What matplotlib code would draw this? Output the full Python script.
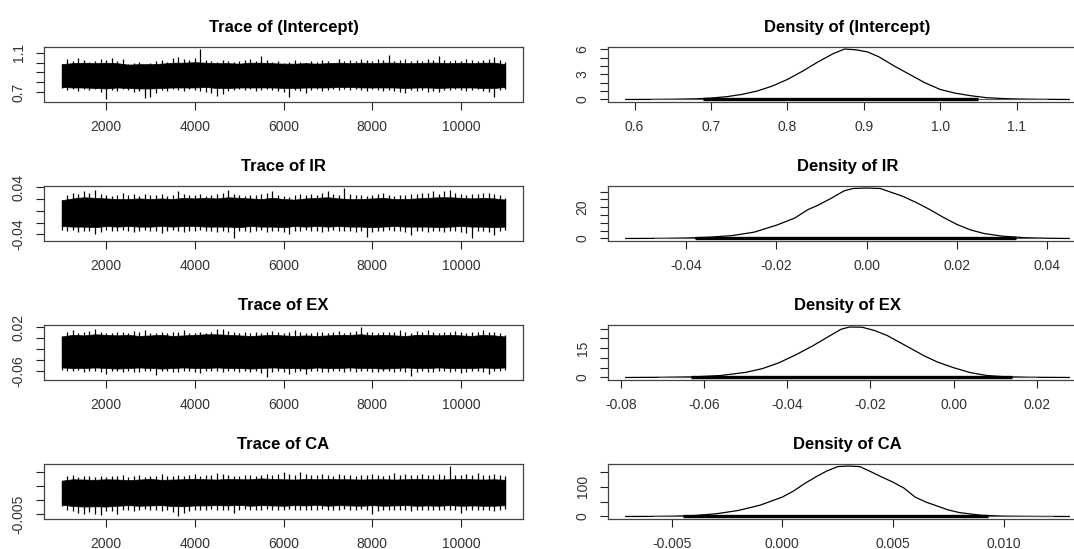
import matplotlib.pyplot as plt
import numpy as np

plt.rcParams['font.family'] = ['Liberation Sans', 'DejaVu Sans']

# knots for the solid core of each trace band, and positions of the hairs on its edges
core_iters = list(range(1000, 11001, 250))
hair_iters = list(range(1000, 11001, 125))

# ---- (Intercept) ----
int_core_hi = [0.985, 0.995, 1.0, 0.995, 1.0, 0.995, 0.98, 0.985, 0.985, 0.99, 1.0, 1.0, 1.005, 1.0,
               0.995, 0.995, 0.99, 1.0, 1.0, 0.995, 0.99, 0.99, 0.995, 0.99, 0.995, 1.0, 0.995, 1.0,
               0.995, 1.0, 1.0, 0.995, 0.995, 1.0, 1.0, 0.995, 1.0, 0.995, 1.0, 1.0, 0.985]
int_core_lo = [0.75, 0.745, 0.745, 0.74, 0.735, 0.745, 0.74, 0.735, 0.735, 0.74, 0.745, 0.745, 0.745, 0.75,
               0.74, 0.74, 0.745, 0.745, 0.745, 0.745, 0.74, 0.74, 0.745, 0.745, 0.745, 0.75, 0.75, 0.745,
               0.745, 0.745, 0.745, 0.74, 0.745, 0.745, 0.74, 0.745, 0.745, 0.745, 0.74, 0.74, 0.75]
int_top = [0.99, 1.04, 1.02, 1.05, 1.03, 1.01, 1.02, 1.04, 1.03, 1.05, 1.02, 1.04,
           0.99, 1.00, 1.01, 0.98, 1.00, 1.02, 1.03, 1.01, 1.05, 1.06, 1.04, 1.03, 1.05, 1.14, 1.03,
           1.02, 1.01, 1.03, 1.02, 1.01, 1.02, 1.03, 1.04, 1.02, 1.07, 1.03,
           1.01, 1.02, 1.00, 1.01, 1.03, 1.01, 1.00, 1.02, 1.01, 1.03, 1.02, 1.00, 1.04, 1.02,
           1.03, 1.02, 1.04, 1.03, 1.02, 1.04, 1.03, 1.08, 1.02, 1.03, 1.04, 1.02, 1.03, 1.02, 1.04, 1.03,
           1.07, 1.03, 1.02, 1.03, 1.02, 1.04, 1.03, 1.02, 1.03, 1.04, 1.06, 1.03, 1.01]
int_bot = [0.74, 0.72, 0.73, 0.71, 0.73, 0.72, 0.73, 0.70, 0.622, 0.72, 0.71, 0.73,
           0.72, 0.70, 0.71, 0.64, 0.645, 0.69, 0.72, 0.71, 0.73, 0.72, 0.71, 0.73, 0.72, 0.71, 0.70,
           0.69, 0.66, 0.68, 0.71, 0.72, 0.73, 0.72, 0.73, 0.71, 0.72, 0.73,
           0.72, 0.71, 0.70, 0.65, 0.72, 0.71, 0.69, 0.72, 0.73, 0.71, 0.72, 0.73, 0.72, 0.73,
           0.72, 0.73, 0.72, 0.71, 0.73, 0.72, 0.71, 0.72, 0.71, 0.70, 0.69, 0.72, 0.71, 0.72, 0.70, 0.71,
           0.70, 0.72, 0.72, 0.73, 0.72, 0.71, 0.72, 0.73, 0.71, 0.70, 0.65, 0.72, 0.73]
int_dens_x = [0.5885, 0.62, 0.65, 0.68, 0.70, 0.72, 0.74, 0.76, 0.78, 0.80, 0.82, 0.84, 0.86, 0.875,
              0.89, 0.905, 0.92, 0.94, 0.96, 0.98, 1.00, 1.02, 1.04, 1.06, 1.08, 1.10, 1.13, 1.1688]
int_dens_y = [0.0, 0.01, 0.03, 0.08, 0.17, 0.33, 0.6, 1.0, 1.6, 2.4, 3.4, 4.5, 5.5, 6.05,
              5.95, 5.7, 5.1, 4.0, 3.0, 2.0, 1.2, 0.75, 0.45, 0.22, 0.12, 0.06, 0.02, 0.0]

# ---- IR ----
ir_core_hi = [0.018, 0.021, 0.023, 0.022, 0.021, 0.020, 0.020, 0.021, 0.020, 0.021, 0.020, 0.022, 0.021, 0.022,
              0.021, 0.023, 0.022, 0.021, 0.020, 0.022, 0.020, 0.019, 0.021, 0.022, 0.023, 0.021, 0.020, 0.020,
              0.021, 0.022, 0.020, 0.020, 0.021, 0.022, 0.023, 0.023, 0.022, 0.021, 0.022, 0.021, 0.019]
ir_core_lo = [-0.026, -0.027, -0.027, -0.028, -0.026, -0.027, -0.026, -0.027, -0.027, -0.026, -0.027, -0.026, -0.026, -0.027,
              -0.027, -0.027, -0.028, -0.026, -0.027, -0.027, -0.028, -0.026, -0.027, -0.026, -0.027, -0.026, -0.027, -0.027,
              -0.028, -0.027, -0.026, -0.027, -0.027, -0.027, -0.028, -0.027, -0.026, -0.027, -0.027, -0.028, -0.027]
ir_top = [0.018, 0.026, 0.030, 0.028, 0.033, 0.031, 0.035, 0.029, 0.027, 0.025, 0.026, 0.031,
          0.026, 0.028, 0.025, 0.029, 0.027, 0.026, 0.028, 0.025, 0.027, 0.033, 0.029, 0.026, 0.027, 0.028, 0.025,
          0.027, 0.029, 0.031, 0.035, 0.028, 0.026, 0.025, 0.027, 0.026, 0.028, 0.030,
          0.033, 0.027, 0.025, 0.024, 0.026, 0.028, 0.027, 0.029, 0.027, 0.030, 0.034, 0.028, 0.026, 0.0387,
          0.028, 0.026, 0.027, 0.025, 0.027, 0.029, 0.031, 0.026, 0.025, 0.027, 0.026, 0.028, 0.029, 0.031, 0.030, 0.033,
          0.029, 0.034, 0.036, 0.030, 0.028, 0.027, 0.029, 0.028, 0.031, 0.030, 0.028, 0.027, 0.022]
ir_bot = [-0.033, -0.035, -0.032, -0.036, -0.034, -0.035, -0.040, -0.036, -0.033, -0.034, -0.035, -0.033,
          -0.034, -0.036, -0.035, -0.033, -0.035, -0.034, -0.038, -0.035, -0.033, -0.034, -0.036, -0.035, -0.034, -0.033, -0.035,
          -0.034, -0.036, -0.035, -0.037, -0.0472, -0.035, -0.034, -0.036, -0.035, -0.033, -0.036,
          -0.035, -0.034, -0.036, -0.040, -0.035, -0.034, -0.033, -0.035, -0.034, -0.036, -0.035, -0.033, -0.034, -0.035,
          -0.034, -0.036, -0.035, -0.045, -0.036, -0.034, -0.035, -0.033, -0.035, -0.034, -0.036, -0.041, -0.035, -0.034, -0.036, -0.035,
          -0.034, -0.036, -0.034, -0.035, -0.036, -0.038, -0.046, -0.035, -0.034, -0.036, -0.041, -0.035, -0.033]
ir_dens_x = [-0.0534, -0.045, -0.040, -0.035, -0.030, -0.025, -0.020, -0.016, -0.013, -0.011, -0.008, -0.005, -0.003,
             0.0, 0.003, 0.005, 0.008, 0.011, 0.014, 0.017, 0.020, 0.023, 0.026, 0.030, 0.035, 0.040, 0.0449]
ir_dens_y = [0.0, 0.1, 0.3, 0.8, 1.8, 4.0, 8.5, 13.0, 18.5, 21.0, 25.5, 30.5, 32.0,
             32.3, 32.0, 30.0, 27.0, 23.0, 18.5, 13.5, 9.0, 5.5, 3.2, 1.5, 0.5, 0.15, 0.0]

# ---- EX ----
ex_core_hi = [0.003, 0.006, 0.005, 0.007, 0.006, 0.005, 0.006, 0.004, 0.005, 0.006, 0.004, 0.005, 0.006, 0.007,
              0.007, 0.006, 0.005, 0.004, 0.005, 0.006, 0.005, 0.004, 0.005, 0.004, 0.005, 0.006, 0.006, 0.007,
              0.005, 0.006, 0.005, 0.004, 0.006, 0.006, 0.005, 0.006, 0.005, 0.004, 0.006, 0.005, 0.003]
ex_core_lo = [-0.053, -0.054, -0.054, -0.053, -0.054, -0.055, -0.054, -0.053, -0.054, -0.055, -0.054, -0.053, -0.054, -0.054,
              -0.053, -0.054, -0.054, -0.055, -0.054, -0.053, -0.054, -0.054, -0.055, -0.053, -0.054, -0.054, -0.053, -0.054,
              -0.054, -0.055, -0.054, -0.053, -0.054, -0.054, -0.053, -0.054, -0.054, -0.054, -0.053, -0.054, -0.053]
ex_top = [0.004, 0.011, 0.014, 0.010, 0.012, 0.013, 0.016, 0.012, 0.010, 0.009, 0.012, 0.011,
          0.010, 0.013, 0.011, 0.015, 0.010, 0.009, 0.011, 0.010, 0.012, 0.011, 0.014, 0.010, 0.009, 0.011, 0.010,
          0.012, 0.016, 0.017, 0.013, 0.011, 0.010, 0.011, 0.009, 0.012, 0.010, 0.011,
          0.013, 0.011, 0.010, 0.012, 0.014, 0.011, 0.010, 0.009, 0.011, 0.012, 0.010, 0.011, 0.013, 0.010,
          0.011, 0.013, 0.0201, 0.012, 0.011, 0.010, 0.012, 0.011, 0.012, 0.014, 0.011, 0.010, 0.013, 0.012, 0.015, 0.011,
          0.010, 0.012, 0.011, 0.013, 0.012, 0.010, 0.011, 0.012, 0.014, 0.011, 0.012, 0.010, 0.006]
ex_bot = [-0.057, -0.059, -0.060, -0.058, -0.061, -0.059, -0.060, -0.062, -0.064, -0.060, -0.059, -0.061,
          -0.060, -0.062, -0.061, -0.059, -0.060, -0.066, -0.060, -0.059, -0.061, -0.062, -0.060, -0.059, -0.061, -0.063, -0.060,
          -0.059, -0.060, -0.061, -0.059, -0.060, -0.062, -0.060, -0.061, -0.059, -0.063, -0.0711,
          -0.061, -0.060, -0.062, -0.065, -0.061, -0.060, -0.064, -0.059, -0.060, -0.061, -0.062, -0.060, -0.059, -0.061,
          -0.060, -0.061, -0.059, -0.060, -0.062, -0.061, -0.060, -0.059, -0.061, -0.060, -0.062, -0.068, -0.061, -0.060, -0.062, -0.061,
          -0.060, -0.059, -0.061, -0.060, -0.063, -0.061, -0.060, -0.059, -0.061, -0.064, -0.060, -0.059, -0.057]
ex_dens_x = [-0.0788, -0.070, -0.062, -0.056, -0.050, -0.046, -0.042, -0.038, -0.034, -0.030, -0.027, -0.025,
             -0.022, -0.019, -0.016, -0.013, -0.010, -0.007, -0.004, 0.0, 0.004, 0.008, 0.012, 0.018, 0.0278]
ex_dens_y = [0.0, 0.1, 0.35, 1.0, 2.6, 4.5, 7.5, 11.5, 16.0, 21.0, 24.7, 25.8,
             25.7, 24.0, 21.5, 18.0, 14.5, 11.0, 8.0, 5.0, 2.5, 1.0, 0.4, 0.12, 0.0]

# ---- CA ----
ca_core_hi = [0.0070, 0.0075, 0.0074, 0.0073, 0.0075, 0.0074, 0.0072, 0.0074, 0.0076, 0.0073, 0.0074, 0.0075, 0.0077, 0.0075,
              0.0074, 0.0076, 0.0075, 0.0075, 0.0078, 0.0076, 0.0075, 0.0074, 0.0076, 0.0075, 0.0076, 0.0075, 0.0075, 0.0074,
              0.0075, 0.0075, 0.0074, 0.0075, 0.0076, 0.0075, 0.0074, 0.0075, 0.0076, 0.0075, 0.0074, 0.0075, 0.0073]
ca_core_lo = [-0.0016, -0.0021, -0.0023, -0.0022, -0.0023, -0.0020, -0.0018, -0.0020, -0.0019, -0.0018, -0.0021, -0.0022, -0.0019, -0.0019,
              -0.0018, -0.0019, -0.0017, -0.0020, -0.0018, -0.0019, -0.0020, -0.0018, -0.0019, -0.0017, -0.0020, -0.0018, -0.0019, -0.0020,
              -0.0018, -0.0020, -0.0019, -0.0018, -0.0020, -0.0019, -0.0020, -0.0018, -0.0020, -0.0019, -0.0020, -0.0020, -0.0018]
ca_top = [0.0070, 0.0085, 0.0090, 0.0083, 0.0086, 0.0088, 0.0084, 0.0087, 0.0082, 0.0086, 0.0085, 0.0089,
          0.0084, 0.0087, 0.0090, 0.0083, 0.0088, 0.0085, 0.0093, 0.0088, 0.0086, 0.0089, 0.0087, 0.0090, 0.0092, 0.0088, 0.0091,
          0.0089, 0.0099, 0.0092, 0.0090, 0.0088, 0.0087, 0.0089, 0.0091, 0.0088, 0.0090, 0.0092,
          0.0089, 0.0093, 0.0102, 0.0095, 0.0091, 0.0100, 0.0092, 0.0089, 0.0091, 0.0093, 0.0090, 0.0088, 0.0092, 0.0091,
          0.0090, 0.0088, 0.0091, 0.0089, 0.0092, 0.0090, 0.0088, 0.0091, 0.0097, 0.0090, 0.0092, 0.0089, 0.0091, 0.0093, 0.0090, 0.0089,
          0.0092, 0.0090, 0.01224, 0.0091, 0.0090, 0.0092, 0.0089, 0.0096, 0.0091, 0.0090, 0.0092, 0.0089, 0.0085]
ca_bot = [-0.0020, -0.0035, -0.0040, -0.0045, -0.0050, -0.0042, -0.0048, -0.0052, -0.0040, -0.0038, -0.0049, -0.0036,
          -0.0034, -0.0040, -0.0037, -0.0033, -0.0035, -0.0034, -0.0038, -0.0036, -0.0042, -0.00585, -0.0045, -0.0038, -0.0036, -0.0034, -0.0035,
          -0.0033, -0.0035, -0.0034, -0.0036, -0.0046, -0.0034, -0.0033, -0.0035, -0.0036, -0.0034, -0.0033,
          -0.0035, -0.0034, -0.0036, -0.0033, -0.0035, -0.0034, -0.0037, -0.0035, -0.0034, -0.0033, -0.0036, -0.0035, -0.0034, -0.0033,
          -0.0035, -0.0034, -0.0033, -0.0036, -0.0050, -0.0040, -0.0035, -0.0034, -0.0036, -0.0035, -0.0034, -0.0038, -0.0036, -0.0035, -0.0034, -0.0036,
          -0.0035, -0.0037, -0.0036, -0.0035, -0.0047, -0.0036, -0.0034, -0.0035, -0.0036, -0.0034, -0.0040, -0.0036, -0.0033]
ca_dens_x = [-0.00708, -0.006, -0.005, -0.004, -0.003, -0.002, -0.001, 0.0, 0.0005, 0.001, 0.0015, 0.002, 0.0025,
             0.003, 0.0035, 0.004, 0.0045, 0.005, 0.0055, 0.006, 0.0065, 0.007, 0.0075, 0.008, 0.009, 0.010, 0.0115, 0.01297]
ca_dens_y = [0.0, 0.3, 1.0, 3.0, 9.0, 20.0, 38.0, 65.0, 85.0, 110.0, 132.0, 152.0, 167.0,
             169.0, 167.0, 150.0, 132.0, 115.0, 95.0, 65.0, 48.0, 35.0, 22.0, 13.0, 4.0, 1.2, 0.2, 0.0]

names = ['(Intercept)', 'IR', 'EX', 'CA']
core_his = [int_core_hi, ir_core_hi, ex_core_hi, ca_core_hi]
core_los = [int_core_lo, ir_core_lo, ex_core_lo, ca_core_lo]
tops = [int_top, ir_top, ex_top, ca_top]
bots = [int_bot, ir_bot, ex_bot, ca_bot]
dens_xs = [int_dens_x, ir_dens_x, ex_dens_x, ca_dens_x]
dens_ys = [int_dens_y, ir_dens_y, ex_dens_y, ca_dens_y]

# axis ticks, blank strings where R dropped an overlapping label
trace_yticks = [[0.7, 0.8, 0.9, 1.0, 1.1], [-0.04, -0.02, 0.0, 0.02, 0.04],
                [-0.06, -0.04, -0.02, 0.0, 0.02], [-0.005, 0.0, 0.005, 0.010]]
trace_ylabels = [['0.7', '', '', '', '1.1'], ['-0.04', '', '', '', '0.04'],
                 ['-0.06', '', '', '', '0.02'], ['-0.005', '', '', '']]
dens_xticks = [[0.6, 0.7, 0.8, 0.9, 1.0, 1.1], [-0.04, -0.02, 0.0, 0.02, 0.04],
               [-0.08, -0.06, -0.04, -0.02, 0.0, 0.02], [-0.005, 0.0, 0.005, 0.010]]
dens_xlabels = [['0.6', '0.7', '0.8', '0.9', '1.0', '1.1'], ['-0.04', '-0.02', '0.00', '0.02', '0.04'],
                ['-0.08', '-0.06', '-0.04', '-0.02', '0.00', '0.02'], ['-0.005', '0.000', '0.005', '0.010']]
dens_yticks = [[0, 1, 2, 3, 4, 5, 6], [0, 5, 10, 15, 20, 25, 30], [0, 5, 10, 15, 20, 25], [0, 50, 100, 150]]
dens_ylabels = [['0', '', '', '3', '', '', '6'], ['0', '', '', '', '20', '', ''],
                ['0', '', '', '15', '', ''], ['0', '', '100', '']]
trace_xticks = [2000, 4000, 6000, 8000, 10000]

W, H = 1074, 549
fig = plt.figure(figsize=(W / 100, H / 100), dpi=100)


def px_axes(x0, y0, w, h):
    return fig.add_axes([x0 / W, 1 - (y0 + h) / H, w / W, h / H])


def style(ax):
    for s in ax.spines.values():
        s.set_linewidth(0.9)
        s.set_color('#444444')
    ax.tick_params(direction='out', length=5.8, width=0.8, pad=7.5, labelsize=10,
                   labelcolor='#333333', color='#222222')


row_tops = [47, 186, 325, 464]
for i, name in enumerate(names):
    top = row_tops[i]
    chi = np.array(core_his[i])
    clo = np.array(core_los[i])
    mid = np.interp(hair_iters, core_iters, (chi + clo) / 2)
    hair_top = np.array(tops[i])
    hair_bot = np.array(bots[i])

    # trace plot: solid core plus the hairs that stick out of it
    ax = px_axes(44, top, 479, 54.5)
    ax.fill_between(core_iters, clo, chi, color='black', lw=0.5, edgecolor='black')
    ax.vlines(hair_iters, mid, hair_top, color='black', lw=0.9)
    ax.vlines(hair_iters, hair_bot, mid, color='black', lw=0.9)
    vmin, vmax = hair_bot.min(), hair_top.max()
    r = vmax - vmin
    ax.set_ylim(vmin - 0.04 * r, vmax + 0.04 * r)
    ax.set_xlim(600, 11400)
    ax.set_xticks(trace_xticks)
    ax.set_xticklabels([str(t) for t in trace_xticks])
    ax.set_yticks(trace_yticks[i])
    ax.set_yticklabels(trace_ylabels[i], rotation=90, va='center')
    style(ax)
    ax.set_title('Trace of ' + name, fontsize=12, fontweight='bold', pad=10.5)

    # density plot with the observations as tiny ticks along zero
    dx = dens_xs[i]
    dy = dens_ys[i]
    ax = px_axes(608, top, 479, 54.5)
    ax.plot(dx, dy, color='black', lw=0.9)
    ymax = max(dy)
    ax.hlines(ymax * 0.005, vmin, vmax, color='#555555', lw=0.8)
    ax.hlines(ymax * 0.005, np.percentile(hair_bot, 10), np.percentile(hair_top, 90), color='black', lw=2.4)
    ax.vlines(np.concatenate([hair_top, hair_bot]), 0, ymax * 0.015, color='black', lw=0.6)
    dr = dx[-1] - dx[0]
    ax.set_xlim(dx[0] - 0.04 * dr, dx[-1] + 0.04 * dr)
    ax.set_ylim(-0.04 * ymax, 1.04 * ymax)
    ax.set_xticks(dens_xticks[i])
    ax.set_xticklabels(dens_xlabels[i])
    ax.set_yticks(dens_yticks[i])
    ax.set_yticklabels(dens_ylabels[i], rotation=90, va='center')
    style(ax)
    ax.set_title('Density of ' + name, fontsize=12, fontweight='bold', pad=10.5)

fig.savefig('out.png', dpi=100)
